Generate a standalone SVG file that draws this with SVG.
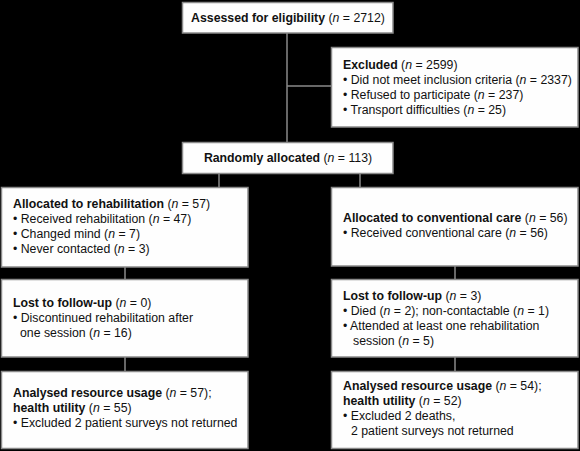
<svg xmlns="http://www.w3.org/2000/svg" width="580" height="451" viewBox="0 0 580 451">
<style>
.box{fill:#fefefe;stroke:#8a8a8a;stroke-width:1.5}
.ln{stroke:#8a8a8a;stroke-width:1.5;fill:none}
text{font-family:"Liberation Sans",Arial,Helvetica,sans-serif;font-size:12.3px;fill:#111}
.b{font-weight:bold}
.i{font-style:italic}
</style>
<rect width="580" height="451" fill="#000"/>
<g id="connectors">
<line class="ln" x1="287" y1="33" x2="287" y2="143"/>
<line class="ln" x1="287" y1="86" x2="332" y2="86"/>
<line class="ln" x1="219" y1="174" x2="219" y2="188"/>
<line class="ln" x1="360" y1="174" x2="360" y2="188"/>
<line class="ln" x1="125" y1="267" x2="125" y2="279"/>
<line class="ln" x1="125" y1="357" x2="125" y2="371"/>
<line class="ln" x1="455" y1="266" x2="455" y2="279"/>
<line class="ln" x1="455" y1="357" x2="455" y2="371"/>
</g>
<g id="assessed">
<rect class="box" x="182.5" y="2.5" width="210.5" height="30.5"/>
<text x="288" y="22" text-anchor="middle"><tspan class="b">Assessed for eligibility</tspan> (<tspan class="i">n</tspan> = 2712)</text>
</g>
<g id="excluded">
<rect class="box" x="331.5" y="47.5" width="246.5" height="79.5"/>
<text x="343" y="69"><tspan class="b">Excluded</tspan> (<tspan class="i">n</tspan> = 2599)</text>
<text x="343" y="84">• Did not meet inclusion criteria (<tspan class="i">n</tspan> = 2337)</text>
<text x="343" y="99">• Refused to participate (<tspan class="i">n</tspan> = 237)</text>
<text x="343" y="114">• Transport difficulties (<tspan class="i">n</tspan> = 25)</text>
</g>
<g id="randomised">
<rect class="box" x="182.5" y="142.5" width="210.5" height="31"/>
<text x="288" y="162" text-anchor="middle"><tspan class="b">Randomly allocated</tspan> (<tspan class="i">n</tspan> = 113)</text>
</g>
<g id="alloc-rehab">
<rect class="box" x="1.5" y="187.5" width="246.5" height="79.5"/>
<text x="13" y="208"><tspan class="b">Allocated to rehabilitation</tspan> (<tspan class="i">n</tspan> = 57)</text>
<text x="13" y="223">• Received rehabilitation (<tspan class="i">n</tspan> = 47)</text>
<text x="13" y="238">• Changed mind (<tspan class="i">n</tspan> = 7)</text>
<text x="13" y="253">• Never contacted (<tspan class="i">n</tspan> = 3)</text>
</g>
<g id="alloc-conv">
<rect class="box" x="331.5" y="187.5" width="246.5" height="78.5"/>
<text x="343" y="222"><tspan class="b">Allocated to conventional care</tspan> (<tspan class="i">n</tspan> = 56)</text>
<text x="343" y="237">• Received conventional care (<tspan class="i">n</tspan> = 56)</text>
</g>
<g id="lost-rehab">
<rect class="box" x="1.5" y="279.5" width="246.5" height="77.5"/>
<text x="13" y="307"><tspan class="b">Lost to follow-up</tspan> (<tspan class="i">n</tspan> = 0)</text>
<text x="13" y="322">• Discontinued rehabilitation after</text>
<text x="20" y="337">one session (<tspan class="i">n</tspan> = 16)</text>
</g>
<g id="lost-conv">
<rect class="box" x="331.5" y="279.5" width="246.5" height="77.5"/>
<text x="343" y="300"><tspan class="b">Lost to follow-up</tspan> (<tspan class="i">n</tspan> = 3)</text>
<text x="343" y="315">• Died (<tspan class="i">n</tspan> = 2); non-contactable (<tspan class="i">n</tspan> = 1)</text>
<text x="343" y="330">• Attended at least one rehabilitation</text>
<text x="353" y="345">session (<tspan class="i">n</tspan> = 5)</text>
</g>
<g id="analysed-rehab">
<rect class="box" x="1.5" y="371.5" width="246.5" height="77"/>
<text x="13" y="397"><tspan class="b">Analysed resource usage</tspan> (<tspan class="i">n</tspan> = 57);</text>
<text x="13" y="412"><tspan class="b">health utility</tspan> (<tspan class="i">n</tspan> = 55)</text>
<text x="13" y="427">• Excluded 2 patient surveys not returned</text>
</g>
<g id="analysed-conv">
<rect class="box" x="331.5" y="371.5" width="246.5" height="77"/>
<text x="343" y="390"><tspan class="b">Analysed resource usage</tspan> (<tspan class="i">n</tspan> = 54);</text>
<text x="343" y="405"><tspan class="b">health utility</tspan> (<tspan class="i">n</tspan> = 52)</text>
<text x="343" y="420">• Excluded 2 deaths,</text>
<text x="351" y="435">2 patient surveys not returned</text>
</g>
</svg>
